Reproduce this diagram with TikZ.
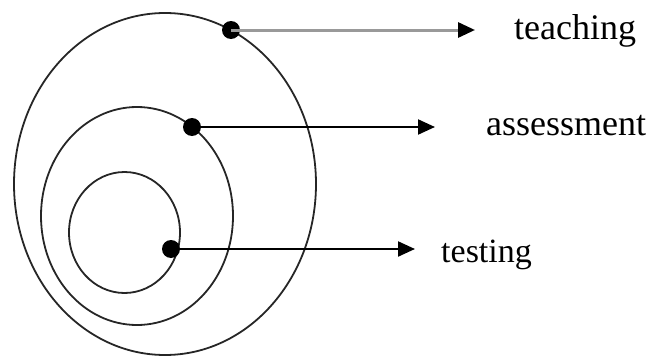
\documentclass[tikz,border=0pt]{standalone}
\usepackage{fontspec}
\setmainfont{Liberation Serif}
\usetikzlibrary{arrows.meta}
\begin{document}
\begin{tikzpicture}[x=1pt,y=-1pt,
  ring/.style={draw=black!85,line width=1.8pt},
  dot/.style={circle,fill=black,inner sep=0pt,minimum size=18pt},
  conn/.style={line width=2.2pt,-{Triangle[length=17pt,width=15pt,color=black]}},
  lbl/.style={anchor=base west,inner sep=0pt,font=\fontsize{36}{40}\selectfont}]
\useasboundingbox (0,0) rectangle (649,356);
\draw[ring] (165,184) ellipse [x radius=151, y radius=171];
\draw[ring] (137,216) ellipse [x radius=96, y radius=109];
\draw[ring] (124.5,232.5) ellipse [x radius=55.5, y radius=60.5];
\node[dot] (d1) at (231,30) {};
\node[dot] (d2) at (192,127) {};
\node[dot] (d3) at (171,249) {};
\coordinate (e1) at (475,30);
\coordinate (e2) at (435,127);
\coordinate (e3) at (415,249);
\draw[conn,draw=black!40,line width=3pt] (d1.center) -- (e1);
\draw[conn] (d2.center) -- (e2);
\draw[conn] (d3.center) -- (e3);
\node[lbl] (t1) at (514,39) {teaching};
\node[lbl] (t2) at (486,135) {assessment};
\node[lbl,font=\fontsize{34}{38}\selectfont] (t3) at (441,262) {testing};
\end{tikzpicture}
\end{document}
